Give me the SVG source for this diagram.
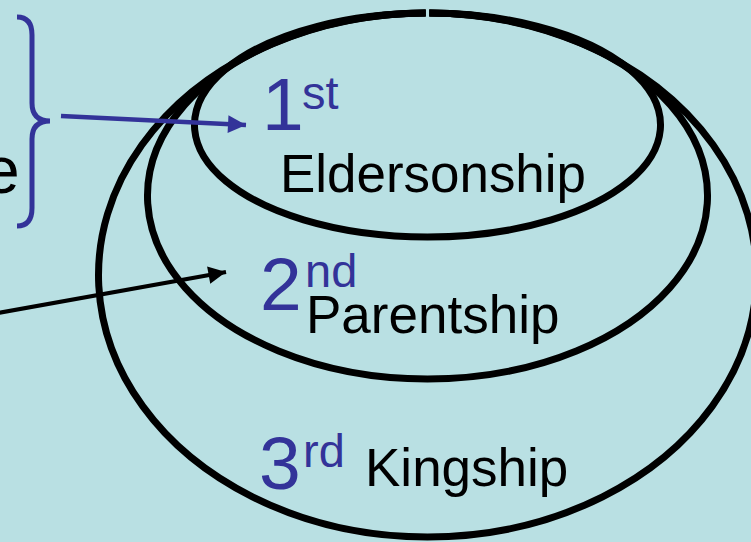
<svg xmlns="http://www.w3.org/2000/svg" width="751" height="542" viewBox="0 0 751 542">
  <defs>
    <style>
      .ring { fill: none; stroke: #000; stroke-width: 7; }
      .num { font-family: "Liberation Sans", Arial, sans-serif; fill: #333399; }
      .lbl { font-family: "Liberation Sans", Arial, sans-serif; fill: #000; font-size: 53px; }
      .big { font-size: 75px; }
      .sup { font-size: 47px; }
    </style>
    <marker id="ahBlue" viewBox="0 0 10 10" refX="10" refY="5" markerWidth="4.2" markerHeight="4" orient="auto" markerUnits="strokeWidth">
      <path d="M0,0 L10,5 L0,10 z" fill="#333399"/>
    </marker>
    <marker id="ahBlack" viewBox="0 0 10 10" refX="10" refY="5" markerWidth="4.6" markerHeight="4.4" orient="auto" markerUnits="strokeWidth">
      <path d="M0,0 L10,5 L0,10 z" fill="#000"/>
    </marker>
  </defs>
  <rect width="751" height="542" fill="#b9e0e3"/>

  <g id="node-3">
    <path class="ring" d="M429.3,13 A329,262 0 1 1 425.7,13"/>
    <text class="num big" x="259" y="489">3</text>
    <text class="num sup" x="303" y="467">rd</text>
    <text class="lbl" x="365" y="486">Kingship</text>
  </g>

  <g id="node-2">
    <path class="ring" d="M429.3,13 A280,183 0 1 1 425.7,13"/>
    <text class="num big" x="260" y="310">2</text>
    <text class="num sup" x="305" y="287">nd</text>
    <text class="lbl" x="306" y="333">Parentship</text>
  </g>

  <g id="node-1">
    <path class="ring" d="M429.3,13 A233,112 0 1 1 425.7,13"/>
    <text class="num big" x="262" y="130">1</text>
    <text class="num sup" x="302" y="109">st</text>
    <text class="lbl" x="280" y="192" textLength="306" lengthAdjust="spacingAndGlyphs">Eldersonship</text>
  </g>

  <g id="bracket">
    <path d="M17,17 Q32,17 32,35 L32,103 Q32,121 50,121 Q32,121 32,139 L32,208 Q32,226 17,226" fill="none" stroke="#333399" stroke-width="5"/>
    <text x="-17" y="193" font-family="Liberation Sans, Arial, sans-serif" font-size="66" fill="#000">e</text>
  </g>

  <g id="connectors">
    <line x1="61" y1="116" x2="246" y2="125" stroke="#333399" stroke-width="4.5" marker-end="url(#ahBlue)"/>
    <line x1="-2" y1="313" x2="226" y2="272" stroke="#000" stroke-width="4" marker-end="url(#ahBlack)"/>
  </g>
</svg>
